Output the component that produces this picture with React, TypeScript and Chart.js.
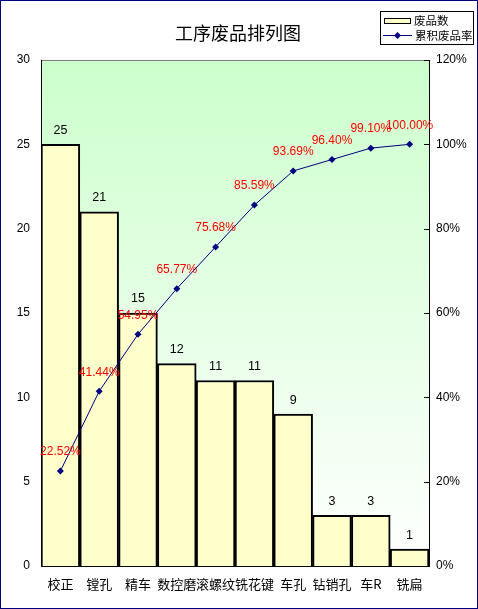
import React, { useEffect, useRef } from "react";
import { Chart, registerables } from "chart.js";

Chart.register(...registerables);

const categories = ["校正", "镗孔", "精车", "数控磨", "滚螺纹", "铣花键", "车孔", "钻销孔", "车R", "铣扁"];
const defectCounts = [25, 21, 15, 12, 11, 11, 9, 3, 3, 1];
const cumulativeRates = [22.52, 41.44, 54.95, 65.77, 75.68, 85.59, 93.69, 96.4, 99.1, 100.0];
const leftTicks = [0, 5, 10, 15, 20, 25, 30];
const rightTicks = [0, 20, 40, 60, 80, 100, 120];
const titleText = "工序废品排列图";
const barLabel = "废品数";
const lineLabel = "累积废品率";

const FONT = "'Liberation Sans', 'Noto Sans CJK SC', sans-serif";
const CJK = "'Noto Sans CJK SC', 'Liberation Sans', sans-serif";

const decorPlugin = {
  id: "decor",
  beforeDraw(chart: any) {
    const { ctx, chartArea } = chart;
    const { left, top, right, bottom } = chartArea;
    ctx.save();
    ctx.fillStyle = "#ffffff";
    ctx.fillRect(0, 0, chart.width, chart.height);
    const g = ctx.createLinearGradient(0, top, 0, bottom);
    g.addColorStop(0, "#ccffcc");
    g.addColorStop(1, "#ffffff");
    ctx.fillStyle = g;
    ctx.fillRect(left, top, right - left, bottom - top);
    ctx.strokeStyle = "#808080";
    ctx.lineWidth = 1;
    ctx.beginPath();
    ctx.moveTo(left, top + 0.5);
    ctx.lineTo(right, top + 0.5);
    ctx.stroke();
    ctx.restore();
  },
  afterDatasetsDraw(chart: any) {
    const { ctx, chartArea } = chart;
    ctx.save();
    // bar labels
    const barMeta = chart.getDatasetMeta(0);
    ctx.fillStyle = "#000000";
    ctx.font = `12.5px ${FONT}`;
    ctx.textAlign = "center";
    ctx.textBaseline = "middle";
    barMeta.data.forEach((el: any, i: number) => {
      ctx.fillText(String(defectCounts[i]), el.x, el.y - 14);
    });
    // line labels
    const lineMeta = chart.getDatasetMeta(1);
    ctx.font = `12px ${FONT}`;
    ctx.fillStyle = "#ff0000";
    ctx.textBaseline = "middle";
    lineMeta.data.forEach((el: any, i: number) => {
      ctx.fillText(cumulativeRates[i].toFixed(2) + "%", el.x, el.y - 19);
    });
    // right axis inward ticks
    const y1 = chart.scales.y1;
    ctx.strokeStyle = "#000000";
    ctx.lineWidth = 1;
    rightTicks.forEach((t) => {
      const y = Math.round(y1.getPixelForValue(t)) + 0.5;
      ctx.beginPath();
      ctx.moveTo(chartArea.right - 5, y);
      ctx.lineTo(chartArea.right, y);
      ctx.stroke();
    });
    ctx.restore();
  },
  afterDraw(chart: any) {
    const { ctx } = chart;
    ctx.save();
    // title
    ctx.fillStyle = "#000000";
    ctx.font = `18px ${CJK}`;
    ctx.textAlign = "center";
    ctx.textBaseline = "middle";
    ctx.fillText(titleText, 238, 33);
    // legend
    ctx.fillStyle = "#ffffff";
    ctx.fillRect(380.5, 11.5, 93, 33);
    ctx.strokeStyle = "#000000";
    ctx.lineWidth = 1;
    ctx.strokeRect(380.5, 11.5, 93, 33);
    ctx.fillStyle = "#ffffcc";
    ctx.fillRect(384.5, 18.5, 26, 5);
    ctx.strokeRect(384.5, 18.5, 26, 5);
    ctx.strokeStyle = "#000080";
    ctx.beginPath();
    ctx.moveTo(383, 35.5);
    ctx.lineTo(412, 35.5);
    ctx.stroke();
    ctx.fillStyle = "#000080";
    ctx.beginPath();
    ctx.moveTo(397.5, 32);
    ctx.lineTo(401, 35.5);
    ctx.lineTo(397.5, 39);
    ctx.lineTo(394, 35.5);
    ctx.closePath();
    ctx.fill();
    ctx.fillStyle = "#000000";
    ctx.font = `11.5px ${CJK}`;
    ctx.textAlign = "left";
    ctx.textBaseline = "middle";
    ctx.fillText(barLabel, 414, 21);
    ctx.fillText(lineLabel, 415, 36);
    // outer border
    ctx.strokeRect(0.5, 0.5, chart.width - 1, chart.height - 1);
    ctx.restore();
  },
};

export default function App() {
  const ref = useRef<HTMLCanvasElement>(null);
  useEffect(() => {
    document.body.style.margin = "0";
    if (!ref.current) return;
    const chart = new Chart(ref.current, {
      type: "bar",
      data: {
        labels: categories,
        datasets: [
          {
            type: "bar",
            label: barLabel,
            data: defectCounts,
            backgroundColor: "#ffffcc",
            borderColor: "#000000",
            borderWidth: 2,
            categoryPercentage: 1,
            barPercentage: 1,
            yAxisID: "y",
            order: 1,
          },
          {
            type: "line",
            label: lineLabel,
            data: cumulativeRates,
            borderColor: "#000080",
            backgroundColor: "#000080",
            borderWidth: 1,
            pointStyle: "rectRot",
            pointRadius: 3.5,
            pointBorderWidth: 0,
            tension: 0,
            yAxisID: "y1",
            order: 0,
          } as any,
        ],
      },
      options: {
        responsive: false,
        animation: false,
        devicePixelRatio: 1,
        layout: { padding: { top: 60, left: 0, right: 0, bottom: 0 } },
        plugins: {
          legend: { display: false },
          title: { display: false },
          tooltip: { enabled: false },
        },
        scales: {
          x: {
            grid: { display: false, drawTicks: false },
            border: { display: true, color: "#000000", width: 1 },
            ticks: {
              color: "#000000",
              font: { family: CJK, size: 13 },
              autoSkip: false,
              maxRotation: 0,
              minRotation: 0,
              padding: 10,
            },
            afterFit: (s: any) => {
              s.height = 43;
            },
          },
          y: {
            position: "left",
            min: 0,
            max: 30,
            afterBuildTicks: (s: any) => {
              s.ticks = leftTicks.map((v) => ({ value: v }));
            },
            grid: { display: false, drawTicks: false },
            border: { display: true, color: "#000000", width: 1 },
            ticks: {
              color: "#000000",
              font: { family: FONT, size: 12 },
              padding: 11,
            },
            afterFit: (s: any) => {
              s.width = 41;
            },
          },
          y1: {
            position: "right",
            min: 0,
            max: 120,
            afterBuildTicks: (s: any) => {
              s.ticks = rightTicks.map((v) => ({ value: v }));
            },
            grid: { display: false, drawTicks: false },
            border: { display: true, color: "#000000", width: 1 },
            ticks: {
              color: "#000000",
              font: { family: FONT, size: 12 },
              padding: 7,
              callback: (v: any) => `${v}%`,
            },
            afterFit: (s: any) => {
              s.width = 49;
            },
          },
        },
      },
      plugins: [decorPlugin],
    });
    return () => chart.destroy();
  }, []);
  return (
    <div style={{ width: 478, height: 609 }}>
      <canvas ref={ref} width={478} height={609} style={{ display: "block" }} />
    </div>
  );
}
